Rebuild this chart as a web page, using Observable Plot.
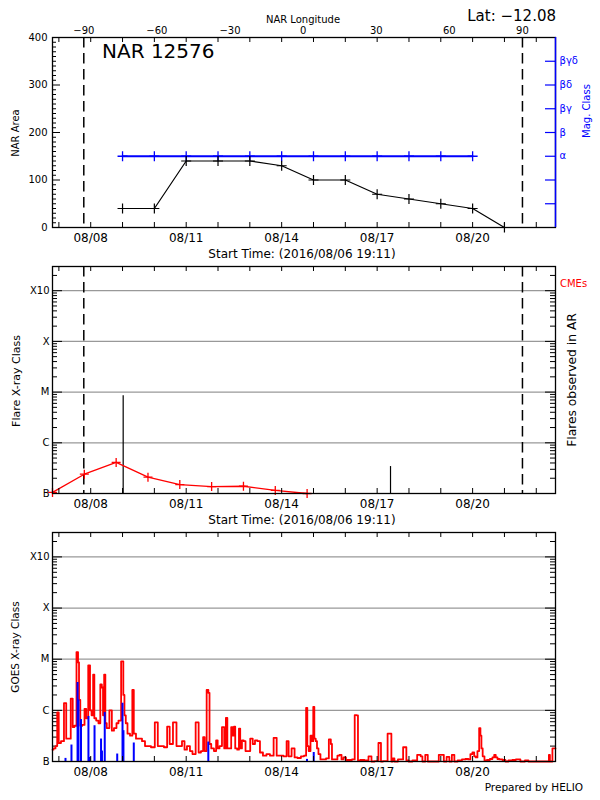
<!DOCTYPE html>
<html><head><meta charset="utf-8">
<script src="https://cdn.jsdelivr.net/npm/d3@7"></script>
<script src="https://cdn.jsdelivr.net/npm/@observablehq/plot@0.6"></script>
<style>
body{margin:0;background:#fff;}
#chart{width:600px;height:800px;}
#chart svg{display:block;}
</style></head><body><div id="chart"></div>
<script>
// ---------------- data ----------------
const startTime = "2016-08-06T19:11Z";
const endTime = "2016-08-22T14:30Z";
const dateTickDates = ["2016-08-08","2016-08-11","2016-08-14","2016-08-17","2016-08-20"];
const dateTickLabels = ["08/08","08/11","08/14","08/17","08/20"];
const limbDates = ["2016-08-07T18:47Z","2016-08-21T13:35Z"]; // -90 and +90 longitude
const lonTicks = [-90,-60,-30,0,30,60,90];

// NAR area & magnetic class
const narDates = ["2016-08-09","2016-08-10","2016-08-11","2016-08-12","2016-08-13","2016-08-14","2016-08-15","2016-08-16","2016-08-17","2016-08-18","2016-08-19","2016-08-20","2016-08-21"];
const narArea = [40,40,140,140,140,130,100,100,70,60,50,40,0];
const magDates = ["2016-08-09","2016-08-10","2016-08-11","2016-08-12","2016-08-13","2016-08-14","2016-08-15","2016-08-16","2016-08-17","2016-08-18","2016-08-19","2016-08-20"];
const magClass = ["α","α","α","α","α","α","α","α","α","α","α","α"];
const magClassLevels = ["α","β","βγ","βδ","βγδ"];
const areaTicks = [0,100,200,300,400];

// Flare panel (flux in W/m^2, daily points in units of 1e-7)
const dailyDates = ["2016-08-06T19:11Z","2016-08-07T19:11Z","2016-08-08T19:11Z","2016-08-09T19:11Z","2016-08-10T19:11Z","2016-08-11T19:11Z","2016-08-12T19:11Z","2016-08-13T19:11Z","2016-08-14T19:11Z"];
const dailyFluxB = [1.05,2.4,4.1,2.1,1.5,1.37,1.39,1.15,1.0];
const flareTimes = ["2016-08-09T00:29Z","2016-08-17T10:05Z"];
const flareFlux = [8.5e-6,3.4e-7];
const classTicks = [1e-7,1e-6,1e-5,1e-4,1e-3];
const classLabels = ["B","C","M","X","X10"];

// GOES X-ray flux: hours after start, flux in units of 1e-7 W/m^2
const goesHours = [0.0,1.5,3.0,4.1,5.3,7.5,9.8,10.9,12.8,14.7,
15.8,17.3,18.9,19.6,20.4,21.5,23.4,24.9,26.0,27.9,
28.7,30.2,31.1,32.0,33.9,35.4,36.7,37.7,38.5,39.4,
40.3,41.5,44.3,45.2,47.5,49.0,50.5,53.0,53.8,54.7,
55.8,57.3,59.6,60.8,61.8,64.1,66.4,68.6,70.9,73.1,
75.4,78.9,79.9,82.9,85.2,87.7,89.0,92.7,94.3,96.5,
98.8,100.3,102.5,104.8,106.3,109.6,110.8,113.1,114.1,115.4,
117.1,118.0,118.8,120.6,122.9,123.9,125.2,126.7,128.9,130.1,
131.4,132.3,134.2,135.3,136.5,137.2,138.4,140.2,141.0,142.1,
143.6,144.8,146.3,147.8,150.4,151.6,153.8,155.3,157.6,159.8,
162.9,165.1,168.4,169.7,172.7,175.7,177.4,178.7,181.9,183.2,
186.2,188.5,190.8,191.7,192.6,193.8,195.3,196.3,197.0,197.9,
199.1,199.8,201.3,202.8,205.1,207.4,209.4,210.4,211.1,214.1,
215.6,217.2,218.7,220.2,222.4,224.7,227.0,228.8,230.0,230.7,
233.7,236.8,239.8,241.3,244.3,247.3,248.1,250.3,255.1,256.0,
257.1,258.6,262.4,266.4,267.3,269.9,272.9,277.1,278.2,279.7,
282.5,283.5,288.0,294.6,295.6,298.8,299.7,302.6,303.5,307.6,
309.9,312.9,314.4,315.9,317.4,318.6,319.7,321.2,322.3,323.1,
323.8,325.0,326.5,328.7,331.0,332.5,333.7,334.8,336.3,337.8,
340.8,342.3,345.3,348.3,350.6,355.1,357.4,360.4,365.7,374.0,
374.7,375.5,378.5,379.3];
const goesFluxB = [1.7,1.8,2.0,9.1,2.3,2.5,13.8,2.8,2.8,17,
4.7,5.0,138,87,16,5.0,5.2,10.7,7.0,76,
10,8.0,50,7.0,6.3,5.6,32,28,8.0,50,
5.6,4.5,10,4.0,4.5,5.6,6.3,91,20,8.0,
5.6,3.5,3.2,25,3.5,2.8,2.8,2.5,2.0,2.0,
1.9,5.8,2.0,2.0,1.9,4.8,2.2,5.8,2.0,2.0,
2.5,1.7,2.0,1.6,1.4,5.8,1.5,1.6,3.0,1.6,
25,22,2.2,1.8,1.6,2.6,1.8,2.0,4.7,1.8,
7.1,1.8,1.8,4.7,3.2,4.8,1.8,1.7,4.4,1.8,
2.6,2.5,1.6,1.6,2.8,2.2,2.6,2.5,1.5,1.3,
1.4,1.3,2.9,1.3,1.3,1.26,2.5,1.26,1.8,1.2,
1.17,1.26,1.3,11.2,2.0,1.6,3.2,2.5,11.7,2.8,
2.5,1.8,1.4,1.1,1.1,1.15,2.7,2.2,1.1,1.1,
1.3,1.35,1.1,1.2,1.07,1.07,1.1,8.1,8.0,1.05,
1.07,1.05,1.26,1.0,1.02,2.3,1.0,1.02,3.5,1.0,
1.15,1.0,1.1,1.9,1.05,1.0,1.05,1.35,1.26,1.0,
1.35,1.0,1.0,1.35,1.0,1.23,1.0,1.35,1.0,1.05,
1.1,1.12,1.1,1.4,1.5,1.26,1.2,1.6,4.5,3.2,
1.8,1.26,1.05,1.07,1.12,1.2,1.35,1.2,1.12,1.1,
1.07,1.0,1.05,1.07,1.1,1.0,1.05,1.0,1.0,1.0,
1.35,1.0,1.8,1.8];
// blue bars (hours after start, flux in units of 1e-7)
const blueHours = [9.8,14.3,18.9,19.6,21.5,27.1,28.1,31.7,36.6,37.3,39.4,48.8,52.8,53.5,61.3,117.5,191.9,197.0];
const blueFluxB = [1.15,2.1,35,16,6.6,7.6,1.2,5.0,2.75,1.6,9.1,1.4,13.8,4.0,2.3,2.4,1.1,1.5];

// ---------------- helpers ----------------
const FONT = "DejaVu Sans";
const W = 600, ML = 52, MR = 45, PW = W - ML - MR;
const t0 = new Date(startTime), t1 = new Date(endTime);
const atHours = h => new Date(+t0 + h * 3600e3);
const dayTicks = d3.utcDay.range(d3.utcDay.ceil(t0), t1);
const tickDates = dateTickDates.map(d => new Date(d));
const tickLabelMap = new Map(tickDates.map((d, i) => [+d, dateTickLabels[i]]));
const limb = limbDates.map(d => new Date(d));
const lonToDate = l => new Date(+limb[0] + (l + 90) / 180 * (limb[1] - limb[0]));
const lonDates = lonTicks.map(lonToDate);
const lonLabelMap = new Map(lonTicks.map(l => [+lonToDate(l), (l < 0 ? "−" : "") + Math.abs(l)]));
const plusSym = {draw(ctx, size) { const r = Math.sqrt(size / Math.PI); ctx.moveTo(-r, 0); ctx.lineTo(r, 0); ctx.moveTo(0, -r); ctx.lineTo(0, r); }};
const style = {fontFamily: FONT, fontSize: "10px", background: "white", color: "black", overflow: "visible"};

function addText(svg, o) {
  const t = d3.select(svg).append("text")
    .attr("font-family", FONT).attr("font-size", o.size)
    .attr("fill", o.fill || "black").attr("text-anchor", o.anchor || "start").text(o.text);
  if (o.rotate) t.attr("transform", `translate(${o.x},${o.y}) rotate(${o.rotate})`).attr("dy", "0.35em");
  else t.attr("x", o.x).attr("y", o.y);
}

function xAxisMarks(ph, withTopTicks = true) {
  return [
    Plot.ruleX(dayTicks, {insetTop: ph - 5, strokeWidth: 1}),
    ...(withTopTicks ? [Plot.ruleX(dayTicks, {insetBottom: ph - 5, strokeWidth: 1})] : []),
    Plot.axisX({anchor: "bottom", ticks: tickDates, tickSize: 0, tickPadding: 6, fontSize: 12, tickFormat: d => tickLabelMap.get(+d), label: null})
  ];
}

// ---------------- panel 1 ----------------
const H1 = 260, MT1 = 37, MB1 = 33, PH1 = H1 - MT1 - MB1;
const narData = narDates.map((d, i) => ({date: new Date(d), area: narArea[i]}));
const levelToArea = k => k * 400 / 8;
const magData = magDates.map((d, i) => ({date: new Date(d), y: levelToArea(magClassLevels.indexOf(magClass[i]) + 3)}));
const magTickVals = d3.range(1, 8).map(levelToArea);
const magLabelMap = new Map(magClassLevels.map((c, i) => [levelToArea(i + 3), c]));
const areaMinor = d3.range(0, 401, 10).filter(v => v % 100);

const p1 = Plot.plot({
  width: W, height: H1, marginTop: MT1, marginBottom: MB1, marginLeft: ML, marginRight: MR,
  style,
  x: {type: "utc", domain: [t0, t1], axis: null},
  y: {domain: [0, 400], axis: null},
  marks: [
    Plot.ruleX(limb, {strokeDasharray: "10.5,5.5", strokeWidth: 1.5}),
    Plot.line(magData, {x: "date", y: "y", stroke: "blue", strokeWidth: 1.8}),
    Plot.dot(magData, {x: "date", y: "y", symbol: plusSym, r: 5, fill: "none", stroke: "blue", strokeWidth: 1.3}),
    Plot.line(narData, {x: "date", y: "area", stroke: "black", strokeWidth: 1.2}),
    Plot.dot(narData, {x: "date", y: "area", symbol: plusSym, r: 5, fill: "none", stroke: "black", strokeWidth: 1.2}),
    ...xAxisMarks(PH1),
    Plot.ruleY(areaTicks, {insetRight: PW - 8}),
    Plot.ruleY(areaMinor, {insetRight: PW - 4}),
    Plot.ruleY(magTickVals, {insetLeft: PW - 10, stroke: "blue", strokeWidth: 1.2}),
    Plot.axisX({anchor: "top", ticks: lonDates, tickSize: 0, tickPadding: 4, fontSize: 10, tickFormat: d => lonLabelMap.get(+d), label: null}),
    Plot.axisY({anchor: "left", ticks: areaTicks, tickSize: 0, tickPadding: 5, fontSize: 10, label: null}),
    Plot.axisY({anchor: "right", ticks: [...magLabelMap.keys()], tickSize: 0, tickPadding: 4, fontSize: 10, color: "blue", tickFormat: d => magLabelMap.get(d), label: null}),
    Plot.frame({strokeWidth: 1.3}),
    Plot.ruleX([t1], {stroke: "blue", strokeWidth: 1.5})
  ]
});

// ---------------- panel 2 ----------------
const H2 = 260, MT2 = 6, MB2 = 27, PH2 = H2 - MT2 - MB2;
const yLog = {type: "log", domain: [1e-7, 3e-3], axis: null};
const logMinor = [];
for (let e = -7; e <= -3; e++) for (let k = 2; k <= 9; k++) { const v = k * 10 ** e; if (v <= 3e-3) logMinor.push(v); }
const classLabelMap = new Map(classTicks.map((v, i) => [v, classLabels[i]]));
function logAxisMarks() {
  return [
    Plot.ruleY(classTicks.slice(1), {stroke: "#999", strokeWidth: 1.2}),
    Plot.ruleY(classTicks, {insetRight: PW - 10}),
    Plot.ruleY(logMinor, {insetRight: PW - 5}),
    Plot.ruleY(classTicks, {insetLeft: PW - 10}),
    Plot.ruleY(logMinor, {insetLeft: PW - 5}),
    Plot.axisY({anchor: "left", ticks: classTicks, tickSize: 0, tickPadding: 3, fontSize: 10, tickFormat: d => classLabelMap.get(d), label: null})
  ];
}
const dailyData = dailyDates.map((d, i) => ({date: new Date(d), flux: dailyFluxB[i] * 1e-7}));
const flareData = flareTimes.map((d, i) => ({date: new Date(d), flux: flareFlux[i]}));

const p2 = Plot.plot({
  width: W, height: H2, marginTop: MT2, marginBottom: MB2, marginLeft: ML, marginRight: MR,
  style,
  x: {type: "utc", domain: [t0, t1], axis: null},
  y: yLog,
  marks: [
    ...logAxisMarks(),
    Plot.ruleX(limb, {strokeDasharray: "10.5,5.5", strokeWidth: 1.5}),
    Plot.ruleX(flareData, {x: "date", y1: 1e-7, y2: "flux", stroke: "black", strokeWidth: 1.2}),
    Plot.line(dailyData, {x: "date", y: "flux", stroke: "red", strokeWidth: 1.3}),
    Plot.dot(dailyData, {x: "date", y: "flux", symbol: plusSym, r: 4.5, fill: "none", stroke: "red", strokeWidth: 1.3}),
    ...xAxisMarks(PH2),
    Plot.frame({strokeWidth: 1.3})
  ]
});

// ---------------- panel 3 ----------------
const H3 = 280, MT3 = 12, MB3 = 39, PH3 = H3 - MT3 - MB3;
const goesData = goesHours.map((h, i) => ({date: atHours(h), flux: goesFluxB[i] * 1e-7}));
const blueData = blueHours.map((h, i) => ({date: atHours(h), flux: blueFluxB[i] * 1e-7}));

const p3 = Plot.plot({
  width: W, height: H3, marginTop: MT3, marginBottom: MB3, marginLeft: ML, marginRight: MR,
  style,
  x: {type: "utc", domain: [t0, t1], axis: null},
  y: yLog,
  marks: [
    ...logAxisMarks(),
    Plot.line(goesData, {x: "date", y: "flux", stroke: "red", strokeWidth: 1.8, curve: "step"}),
    Plot.ruleX(blueData, {x: "date", y1: 1e-7, y2: "flux", stroke: "blue", strokeWidth: 2}),
    ...xAxisMarks(PH3),
    Plot.frame({strokeWidth: 1.3})
  ]
});

const root = document.getElementById("chart");
root.append(p1, p2, p3);

// ---------------- annotations ----------------
addText(p1, {x: 303, y: 22.5, text: "NAR Longitude", size: 10, anchor: "middle"});
addText(p1, {x: 556, y: 21, text: "Lat: −12.08", size: 15, anchor: "end"});
addText(p1, {x: 102, y: 58, text: "NAR 12576", size: 20});
addText(p1, {x: 15, y: 133, text: "NAR Area", size: 10, anchor: "middle", rotate: -90});
addText(p1, {x: 586, y: 111, text: "Mag. Class", size: 10, anchor: "middle", rotate: -90, fill: "blue"});
addText(p1, {x: 302, y: 257.5, text: "Start Time: (2016/08/06 19:11)", size: 12, anchor: "middle"});

addText(p2, {x: 16, y: 121, text: "Flare X-ray Class", size: 11, anchor: "middle", rotate: -90});
addText(p2, {x: 572, y: 120, text: "Flares observed in AR", size: 12.3, anchor: "middle", rotate: -90});
addText(p2, {x: 560, y: 27, text: "CMEs", size: 10, fill: "red"});

// second "Start Time" label sits on the boundary between panels 2 and 3
addText(p3, {x: 302, y: 3.5, text: "Start Time: (2016/08/06 19:11)", size: 12, anchor: "middle"});
addText(p3, {x: 15.5, y: 127, text: "GOES X-ray Class", size: 10.5, anchor: "middle", rotate: -90});
addText(p3, {x: 583, y: 271, text: "Prepared by HELIO", size: 10.5, anchor: "end"});
</script>
</body></html>
